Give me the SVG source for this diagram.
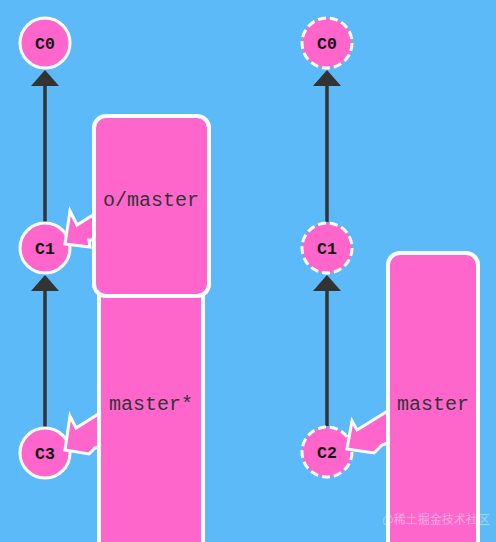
<svg xmlns="http://www.w3.org/2000/svg" width="496" height="542" viewBox="0 0 496 542">
<style>
.commit{fill:#ff66cc;stroke:#fff;stroke-width:3}
.dashed{stroke-dasharray:8 4}
.ctext{font-family:"Liberation Mono",monospace;font-weight:bold;font-size:16.5px;fill:#111;text-anchor:middle}
.box{fill:#ff66cc;stroke:#fff;stroke-width:4}
.btext{font-family:"Liberation Mono",monospace;font-size:20px;fill:#333;text-anchor:middle}
.edge{stroke:#333;stroke-width:3.5;fill:none}
.head{fill:#333}
.barrow{fill:#ff66cc;stroke:#fff;stroke-width:3;stroke-linejoin:miter}
</style>
<rect width="496" height="542" fill="#5cbaf9"/>
<g id="connectors">
<line class="edge" x1="45" y1="222" x2="45" y2="84"/>
<polygon class="head" points="45,70 31,86 59,86"/>
<line class="edge" x1="45" y1="427" x2="45" y2="289"/>
<polygon class="head" points="45,275 31,291 59,291"/>
<line class="edge" x1="327" y1="222" x2="327" y2="84"/>
<polygon class="head" points="327,70 313,86 341,86"/>
<line class="edge" x1="327" y1="426" x2="327" y2="289"/>
<polygon class="head" points="327,275 313,291 341,291"/>
</g>
<g id="C0-left"><circle class="commit" cx="45" cy="43" r="25"/><text class="ctext" x="45" y="49">C0</text></g>
<g id="C1-left"><circle class="commit" cx="45" cy="248" r="25"/><text class="ctext" x="45" y="254">C1</text></g>
<g id="C3-left"><circle class="commit" cx="45" cy="453" r="25"/><text class="ctext" x="45" y="459">C3</text></g>
<g id="C0-right"><circle class="commit dashed" cx="327" cy="43" r="25"/><text class="ctext" x="327" y="49">C0</text></g>
<g id="C1-right"><circle class="commit dashed" cx="327" cy="248" r="25"/><text class="ctext" x="327" y="254">C1</text></g>
<g id="C2-right"><circle class="commit dashed" cx="327" cy="452" r="25"/><text class="ctext" x="327" y="458">C2</text></g>
<g id="master-left">
<polygon class="barrow" points="65,450 70,416 76,428 100,413 100,447 95,448 89,454"/>
<rect class="box" x="99" y="270" width="104" height="300" rx="12"/>
<text class="btext" x="151" y="410">master*</text>
</g>
<g id="omaster-left">
<polygon class="barrow" points="65,244 70,211 77,225 96,213 96,240 89,240 90,247"/>
<rect class="box" x="94" y="116" width="115" height="180" rx="12"/>
<text class="btext" x="151" y="206">o/master</text>
</g>
<g id="master-right">
<polygon class="barrow" points="347,449 352,421 357,430 391,409 391,442 382,445 374,453"/>
<rect class="box" x="388" y="253" width="90" height="320" rx="12"/>
<text class="btext" x="433" y="410">master</text>
</g>
<text x="436" y="524" font-family="'Noto Sans CJK SC',sans-serif" font-size="12" fill="#fff" fill-opacity="0.45" text-anchor="middle">@稀土掘金技术社区</text>
</svg>
